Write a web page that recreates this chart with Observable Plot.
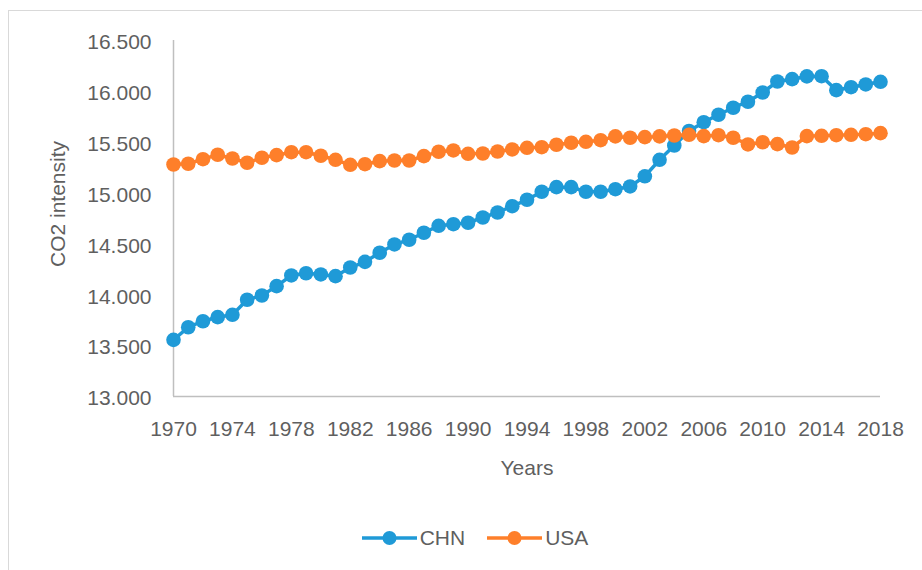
<!DOCTYPE html>
<html>
<head>
<meta charset="utf-8">
<script src="https://cdn.jsdelivr.net/npm/d3@7"></script>
<script src="https://cdn.jsdelivr.net/npm/@observablehq/plot@0.6"></script>
<style>
  html, body { margin: 0; padding: 0; background: #fff; }
  #wrap { position: relative; width: 922px; height: 570px; overflow: hidden;
          font-family: "Liberation Sans", Arial, sans-serif; color: #5f5f5f; }
  #frame { position: absolute; left: 8px; top: 10px; width: 940px; height: 600px;
           border: 1.5px solid #d9d9d9; box-sizing: border-box; pointer-events: none; }
  #legend { height: 65px; display: flex; justify-content: center; align-items: center;
            padding-left: 28px; font-size: 21px; gap: 22px; }
  .item { display: flex; align-items: center; gap: 3px; }
</style>
</head>
<body>
<div id="wrap">
  <div id="frame"></div>
  <div id="chart"></div>
  <div id="legend"></div>
</div>
<script>
const years = [1970,1971,1972,1973,1974,1975,1976,1977,1978,1979,
               1980,1981,1982,1983,1984,1985,1986,1987,1988,1989,
               1990,1991,1992,1993,1994,1995,1996,1997,1998,1999,
               2000,2001,2002,2003,2004,2005,2006,2007,2008,2009,
               2010,2011,2012,2013,2014,2015,2016,2017,2018];
const chn = [13.557,13.681,13.740,13.780,13.803,13.951,13.993,14.085,14.190,14.212,
             14.200,14.183,14.268,14.324,14.413,14.495,14.541,14.610,14.678,14.694,
             14.708,14.760,14.809,14.871,14.934,15.013,15.058,15.058,15.013,15.013,
             15.038,15.065,15.165,15.327,15.468,15.610,15.697,15.770,15.839,15.898,
             15.989,16.097,16.120,16.147,16.149,16.012,16.041,16.068,16.094];
const usa = [15.281,15.288,15.333,15.377,15.340,15.298,15.347,15.373,15.402,15.402,
             15.367,15.327,15.278,15.284,15.314,15.320,15.320,15.363,15.406,15.419,
             15.386,15.389,15.409,15.429,15.445,15.451,15.475,15.495,15.504,15.520,
             15.557,15.544,15.550,15.557,15.566,15.573,15.560,15.569,15.544,15.478,
             15.500,15.481,15.448,15.560,15.563,15.569,15.573,15.579,15.589];
const seriesNames = ["CHN", "USA"];
const seriesColors = ["#1f9ad7", "#fe7f2a"];
const yTicks = [13, 13.5, 14, 14.5, 15, 15.5, 16, 16.5];
const xTicks = [1970,1974,1978,1982,1986,1990,1994,1998,2002,2006,2010,2014,2018];
const yTitle = "CO2 intensity";
const xTitle = "Years";

const chnData = years.map((year, i) => ({year, value: chn[i]}));
const usaData = years.map((year, i) => ({year, value: usa[i]}));

const axisColor = "#bfbfbf";
const chart = Plot.plot({
  width: 922,
  height: 505,
  marginLeft: 173,
  marginRight: 42,
  marginTop: 40,
  marginBottom: 109,
  style: {fontSize: "21px", fontFamily: "'Liberation Sans', Arial, sans-serif", color: "#5f5f5f", background: "transparent"},
  x: {domain: [years[0], years[years.length - 1]]},
  y: {domain: [yTicks[0], yTicks[yTicks.length - 1]]},
  marks: [
    Plot.axisY({ticks: yTicks, tickFormat: d3.format(".3f"), tickSize: 0, tickPadding: 22, label: null, dy: 2}),
    Plot.axisX({ticks: xTicks, tickFormat: d => String(d), tickSize: 0, tickPadding: 25, label: null}),
    Plot.ruleX([years[0]], {stroke: axisColor, strokeWidth: 1.5}),
    Plot.ruleY([yTicks[0]], {stroke: axisColor, strokeWidth: 1.5}),
    Plot.line(chnData, {x: "year", y: "value", stroke: seriesColors[0], strokeWidth: 3.5}),
    Plot.dot(chnData, {x: "year", y: "value", r: 7.3, fill: seriesColors[0], stroke: "none"}),
    Plot.line(usaData, {x: "year", y: "value", stroke: seriesColors[1], strokeWidth: 3.5}),
    Plot.dot(usaData, {x: "year", y: "value", r: 7.3, fill: seriesColors[1], stroke: "none"}),
    Plot.text([yTitle], {text: d => d, frameAnchor: "left", textAnchor: "middle", lineAnchor: "middle", rotate: -90, dx: -115, dy: -14.5, fill: "#5f5f5f"}),
    Plot.text([xTitle], {text: d => d, frameAnchor: "bottom", textAnchor: "middle", lineAnchor: "bottom", dy: 78, fill: "#5f5f5f"})
  ]
});
document.getElementById("chart").appendChild(chart);

const legend = document.getElementById("legend");
seriesNames.forEach((name, i) => {
  const item = document.createElement("div");
  item.className = "item";
  item.innerHTML = `<svg width="55" height="18"><line x1="0" y1="9" x2="55" y2="9" stroke="${seriesColors[i]}" stroke-width="3.5"/><circle cx="27.5" cy="9" r="7" fill="${seriesColors[i]}"/></svg><span>${name}</span>`;
  legend.appendChild(item);
});
</script>
</body>
</html>
